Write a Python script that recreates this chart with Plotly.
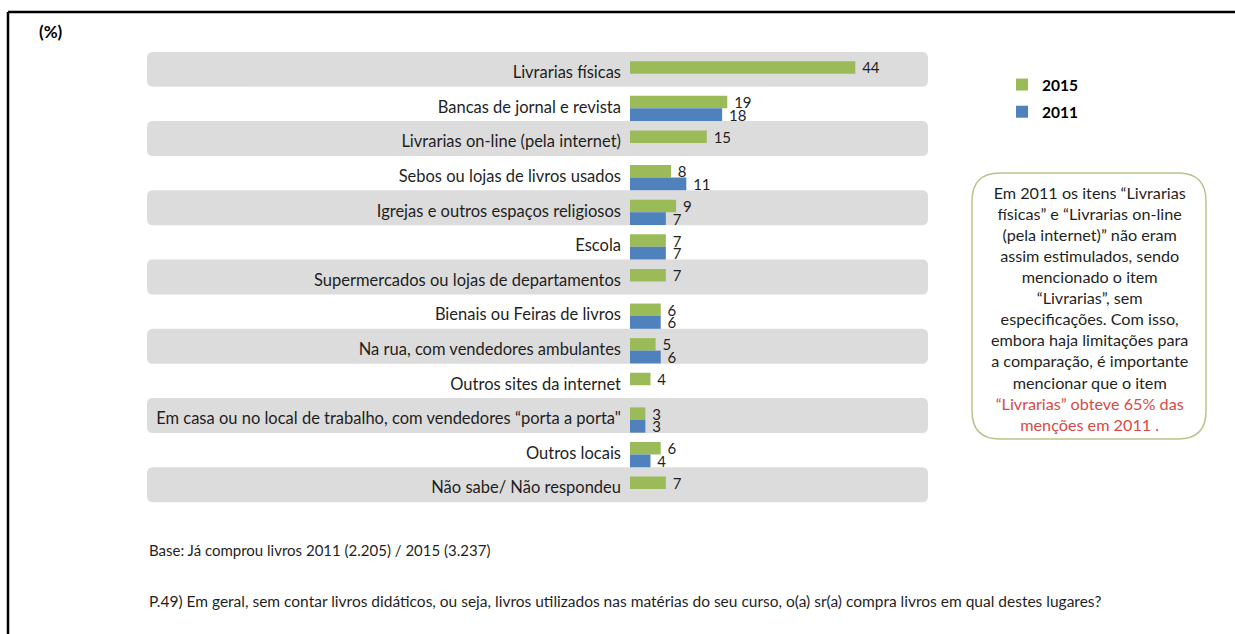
import plotly.graph_objects as go

# ---- data -------------------------------------------------------------
categories = [
    "Livrarias físicas",
    "Bancas de jornal e revista",
    "Livrarias on-line (pela internet)",
    "Sebos ou lojas de livros usados",
    "Igrejas e outros espaços religiosos",
    "Escola",
    "Supermercados ou lojas de departamentos",
    "Bienais ou Feiras de livros",
    "Na rua, com vendedores ambulantes",
    "Outros sites da internet",
    "Em casa ou no local de trabalho, com vendedores “porta a porta\"",
    "Outros locais",
    "Não sabe/ Não respondeu",
]
values_2015 = [44, 19, 15, 8, 9, 7, 7, 6, 5, 4, 3, 6, 7]
values_2011 = [None, 18, None, 11, 7, 7, None, 6, 6, None, 3, 4, None]

# ---- page geometry (pixels) --------------------------------------------
W, H = 1235, 634
ML, MR, MT, MB = 630, 307, 55, 129
PW, PH = W - ML - MR, H - MT - MB
N = len(categories)
X_MAX = 58.2

FONT = "Lato, 'Open Sans', sans-serif"
GREEN = "#9bbb59"
BLUE = "#4f81bd"
BAND = "#dcdcdc"
TXT = "#1f1f1f"
RED = "#d84a45"


def px_x(px):
    return (px - ML) / PW


def px_y(py):
    return (H - MB - py) / PH


def row_y(v):
    # category index -> paper y on the reversed category axis [N-0.5, -0.5]
    return (N - 0.5 - v) / N


def rounded_path(x0, y0, x1, y1, r):
    """Rounded rectangle given in pixels (top-left origin), returned in paper coords."""
    def p(x, y):
        return f"{px_x(x):.5f},{px_y(y):.5f}"
    return (
        f"M{p(x0 + r, y0)} L{p(x1 - r, y0)} Q{p(x1, y0)} {p(x1, y0 + r)} "
        f"L{p(x1, y1 - r)} Q{p(x1, y1)} {p(x1 - r, y1)} "
        f"L{p(x0 + r, y1)} Q{p(x0, y1)} {p(x0, y1 - r)} "
        f"L{p(x0, y0 + r)} Q{p(x0, y0)} {p(x0 + r, y0)} Z"
    )


fig = go.Figure()

fig.add_trace(go.Bar(
    y=categories, x=values_2015, orientation="h", name="2015",
    marker=dict(color=GREEN, line=dict(width=0)),
    width=0.36, offset=-0.32,
    texttemplate=" %{x}", textposition="outside", constraintext="none",
    textfont=dict(family=FONT, size=15, color=TXT), cliponaxis=False,
    legendgroup="a",
))
fig.add_trace(go.Bar(
    y=categories, x=values_2011, orientation="h", name="2011",
    marker=dict(color=BLUE, line=dict(width=0)),
    width=0.37, offset=0.04,
    texttemplate=" %{x}", textposition="outside", constraintext="none",
    textfont=dict(family=FONT, size=15, color=TXT), cliponaxis=False,
    legendgroup="b",
))

shapes = []
# alternating grey row bands, extending under the category labels
band_left, band_right = 147, 928
for i in range(0, N, 2):
    top = H - MB - row_y(i - 0.59) * PH
    bot = H - MB - row_y(i + 0.42) * PH
    shapes.append(dict(type="path", xref="paper", yref="paper",
                       path=rounded_path(band_left, top, band_right, bot, 6),
                       fillcolor=BAND, line=dict(width=0), layer="below"))

# note box
shapes.append(dict(type="path", xref="paper", yref="paper",
                   path=rounded_path(972, 173, 1206, 439, 28),
                   fillcolor="white", line=dict(color="#b7c58d", width=1.5),
                   layer="below"))

# frame lines along the top and left edge
shapes.append(dict(type="line", xref="paper", yref="paper",
                   x0=px_x(8), y0=px_y(12), x1=px_x(W + 5), y1=px_y(12),
                   line=dict(color="black", width=2.5)))
shapes.append(dict(type="line", xref="paper", yref="paper",
                   x0=px_x(8), y0=px_y(12), x1=px_x(8), y1=px_y(H + 5),
                   line=dict(color="black", width=2.5)))

note = (
    "Em 2011 os itens “Livrarias<br>"
    "físicas” e “Livrarias on-line<br>"
    "(pela internet)” não eram<br>"
    "assim estimulados, sendo<br>"
    "mencionado o item<br>"
    "“Livrarias”, sem<br>"
    "especificações. Com isso,<br>"
    "embora haja limitações para<br>"
    "a comparação, é importante<br>"
    "mencionar que o item<br>"
    f"<span style='color:{RED}'>“Livrarias” obteve 65% das</span><br>"
    f"<span style='color:{RED}'>menções em 2011 .</span>"
)

annotations = [
    dict(text="<b>(%)</b>", x=px_x(37), y=px_y(31), xref="paper", yref="paper",
         xanchor="left", yanchor="middle", showarrow=False,
         font=dict(family=FONT, size=17, color="black")),
    dict(text=note, x=px_x(1089), y=px_y(308), xref="paper", yref="paper",
         xanchor="center", yanchor="middle", align="center", showarrow=False,
         font=dict(family=FONT, size=16.2, color=TXT)),
    dict(text="Base: Já comprou livros 2011 (2.205) / 2015 (3.237)",
         x=px_x(147), y=px_y(550), xref="paper", yref="paper",
         xanchor="left", yanchor="middle", showarrow=False,
         font=dict(family=FONT, size=15, color=TXT)),
    dict(text="P.49) Em geral, sem contar livros didáticos, ou seja, livros utilizados nas "
              "matérias do seu curso, o(a) sr(a) compra livros em qual destes lugares?",
         x=px_x(147), y=px_y(601), xref="paper", yref="paper",
         xanchor="left", yanchor="middle", showarrow=False,
         font=dict(family=FONT, size=15.5, color=TXT)),
]

fig.update_layout(
    width=W, height=H,
    margin=dict(l=ML, r=MR, t=MT, b=MB, autoexpand=False),
    paper_bgcolor="white", plot_bgcolor="rgba(0,0,0,0)",
    barmode="overlay",
    showlegend=True,
    legend=dict(x=px_x(1002), y=px_y(68), xanchor="left", yanchor="top",
                traceorder="grouped", tracegroupgap=4,
                font=dict(family=FONT, size=15.5, color="black", weight="bold"),
                bgcolor="rgba(0,0,0,0)", itemclick=False, itemdoubleclick=False),
    shapes=shapes,
    annotations=annotations,
    xaxis=dict(range=[0, X_MAX], visible=False, fixedrange=True),
    yaxis=dict(type="category", categoryorder="array", categoryarray=categories,
               range=[N - 0.5, -0.5], autorange=False, showgrid=False,
               zeroline=False, showline=False, ticks="", automargin=False,
               ticklabelstandoff=8,
               tickfont=dict(family=FONT, size=16.5, color=TXT), fixedrange=True),
    font=dict(family=FONT),
)

fig.write_html("out.html")
